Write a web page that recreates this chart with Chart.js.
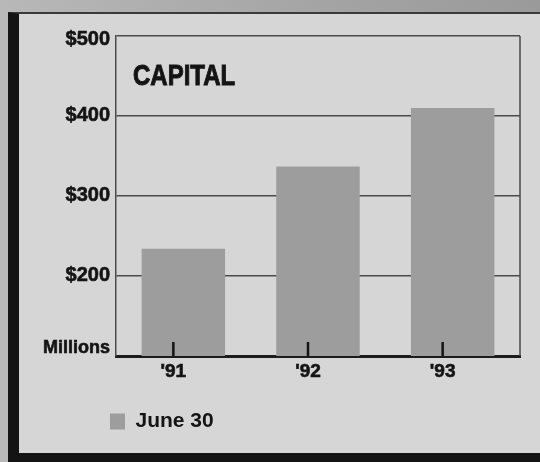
<!DOCTYPE html>
<html>
<head>
<meta charset="utf-8">
<script src="https://cdn.jsdelivr.net/npm/chart.js@4.4.1/dist/chart.umd.min.js"></script>
<style>
  html, body { margin: 0; padding: 0; }
  body { width: 540px; height: 462px; position: relative; overflow: hidden;
         background: linear-gradient(90deg, #b8b8b8, #a4a4a4 60%, #9a9a9a); }
  .card { position: absolute; left: 8px; top: 12px; width: 532px; height: 450px;
          box-sizing: border-box; background: #d6d6d6;
          border-left: 11px solid #141414; border-top: 2px solid #3a3a3a;
          border-bottom: 9px solid #141414; }
  canvas { position: absolute; left: 0; top: 0; }
</style>
</head>
<body>
<div class="card"></div>
<canvas id="chart" width="540" height="462"></canvas>
<script>
// data
const categories = ["'91", "'92", "'93"];
const capital = [234, 337, 410];
const yTickValues = [100, 200, 300, 400, 500];
const yTickLabels = ["Millions", "$200", "$300", "$400", "$500"];
const seriesName = "June 30";
const chartTitle = "CAPITAL";

const INK = "#141414";
const FONT = "'Liberation Sans', Arial, sans-serif";
const TICK_SHIFT = -10; // labels and tick marks sit a little left of bar centres

// y labels, title, inside tick marks and the plot frame
const decorations = {
  id: "decorations",
  afterDraw(chart) {
    const { ctx, chartArea, scales } = chart;
    const y = scales.y, x = scales.x;
    ctx.save();
    ctx.fillStyle = INK;
    ctx.strokeStyle = INK;
    ctx.lineWidth = 0.6;
    ctx.textAlign = "right";
    yTickValues.forEach((v, i) => {
      const py = y.getPixelForValue(v);
      if (i === 0) {
        ctx.font = "bold 18px " + FONT;
        ctx.textBaseline = "bottom";
        ctx.fillText(yTickLabels[i], chartArea.left - 6, py + 1);
        ctx.strokeText(yTickLabels[i], chartArea.left - 6, py + 1);
      } else {
        ctx.font = "bold 20px " + FONT;
        ctx.textBaseline = "middle";
        const ty = Math.max(py - 1, chartArea.top + 3);
        ctx.fillText(yTickLabels[i], chartArea.left - 6, ty);
        ctx.strokeText(yTickLabels[i], chartArea.left - 6, ty);
      }
    });

    // title inside the plot, condensed
    ctx.save();
    ctx.translate(chartArea.left + 17, chartArea.top + 41);
    ctx.scale(0.8, 1);
    ctx.textAlign = "left";
    ctx.textBaseline = "middle";
    ctx.font = "bold 30px " + FONT;
    ctx.lineWidth = 1;
    ctx.fillText(chartTitle, 0, 0);
    ctx.strokeText(chartTitle, 0, 0);
    ctx.restore();

    // right edge of the frame
    ctx.strokeStyle = "#4a4a4a";
    ctx.lineWidth = 1.5;
    ctx.beginPath();
    ctx.moveTo(chartArea.right, chartArea.top);
    ctx.lineTo(chartArea.right, chartArea.bottom);
    ctx.stroke();

    // small ticks pointing up into the bars
    ctx.strokeStyle = INK;
    ctx.lineWidth = 2.5;
    categories.forEach((c, i) => {
      const px = x.getPixelForTick(i) + TICK_SHIFT;
      ctx.beginPath();
      ctx.moveTo(px, chartArea.bottom);
      ctx.lineTo(px, chartArea.bottom - 14);
      ctx.stroke();
    });
    ctx.restore();
  },
};

new Chart(document.getElementById("chart"), {
  type: "bar",
  data: {
    labels: categories,
    datasets: [
      {
        label: seriesName,
        data: capital,
        backgroundColor: "#9d9d9d",
        borderWidth: 0,
        categoryPercentage: 1,
        barPercentage: 0.62,
      },
    ],
  },
  options: {
    responsive: false,
    animation: false,
    devicePixelRatio: 1,
    layout: { padding: { left: 100, top: 36, right: 20, bottom: 20 } },
    plugins: {
      tooltip: { enabled: false },
      legend: {
        position: "bottom",
        align: "start",
        labels: {
          boxWidth: 15,
          boxHeight: 16,
          padding: 10,
          color: INK,
          font: { family: FONT, size: 21, weight: "bold" },
        },
      },
    },
    scales: {
      x: {
        grid: { display: false, drawTicks: false },
        border: { display: true, color: "#1c1c1c", width: 3 },
        ticks: {
          color: INK,
          padding: 4,
          labelOffset: TICK_SHIFT,
          textStrokeColor: INK,
          textStrokeWidth: 0.6,
          font: { family: FONT, size: 19, weight: "bold" },
        },
        afterFit: (s) => { s.height = 45; },
      },
      y: {
        min: 100,
        max: 500,
        ticks: { display: false, stepSize: 100 },
        grid: { color: "#4a4a4a", lineWidth: 1.5, drawTicks: false },
        border: { display: true, color: "#4a4a4a", width: 1.5 },
        afterFit: (s) => { s.width = 16; },
      },
    },
  },
  plugins: [decorations],
});
</script>
</body>
</html>
